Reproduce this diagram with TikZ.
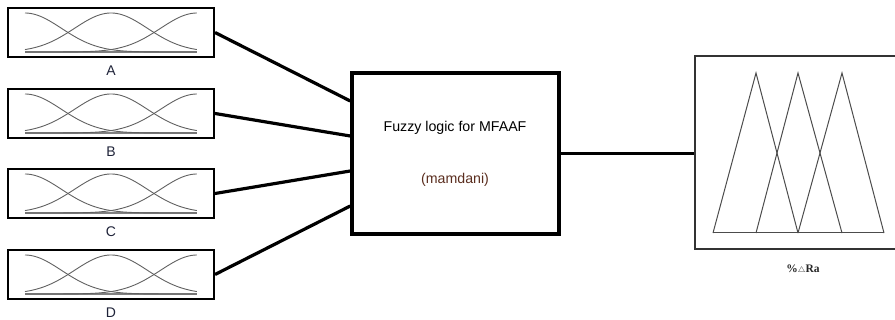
\documentclass[tikz,border=0pt]{standalone}
\usepackage{fontspec}
\setmainfont{Liberation Sans}
\newfontfamily\serifdelta{Liberation Serif}
\usetikzlibrary{calc}
\definecolor{lbl}{HTML}{1E2238}
\definecolor{mam}{HTML}{5A2D1E}
\tikzset{
  mfbox/.style={draw=black, line width=2pt, minimum width=206pt, minimum height=49pt, inner sep=0pt},
  fisbox/.style={draw=black, line width=3.5pt, minimum width=207pt, minimum height=161pt, inner sep=0pt},
  outbox/.style={draw=black!80, line width=1.5pt, minimum width=220pt, minimum height=193pt, inner sep=0pt},
  conn/.style={line width=3.2pt, black},
  mfcurve/.style={draw=black!62, line width=0.9pt},
  mfbase/.style={draw=black!50, line width=1.5pt},
  tri/.style={draw=black!70, line width=1pt, line join=miter},
  lblstyle/.style={text=lbl, font=\fontsize{14}{16}\selectfont, inner sep=0pt},
  fistext/.style={font=\fontsize{14.2}{17}\selectfont, inner sep=0pt},
}
\begin{document}
\begin{tikzpicture}[x=1pt,y=-1pt]
\begin{scope}
\clip (0,0) rectangle (895,320);
% input membership-function boxes
\foreach \n/\t in {A/8, B/89, C/169, D/250}{
  \node[mfbox] (\n) at (111,{\t+24.5}) {};
  \node[lblstyle] (\n lab) at (111,{\t+63}) {\n};
  \begin{scope}[shift={(8,\t)}]
    \draw[mfbase] (17,44) -- (189,44);
    \draw[mfcurve] plot[domain=0:1,samples=70] ({17+172*\x},{5+39*(1-exp(-11.1*\x*\x))});
    \draw[mfcurve] plot[domain=0:1,samples=70] ({17+172*\x},{5+39*(1-exp(-11.1*(\x-0.5)*(\x-0.5)))});
    \draw[mfcurve] plot[domain=0:1,samples=70] ({17+172*\x},{5+39*(1-exp(-11.1*(\x-1)*(\x-1)))});
  \end{scope}
}
% fuzzy inference system
\node[fisbox] (F) at (455.5,153.5) {};
\node[fistext] (F1) at (455,128) {Fuzzy logic for MFAAF};
\node[fistext, text=mam] (F2) at (455,180) {(mamdani)};
% output box
\node[outbox] (R) at (805,152.5) {};
\draw[tri] (713,233) -- (756,73) -- (798,233);
\draw[tri] (756,233) -- (798,73) -- (842,233);
\draw[tri] (798,233) -- (842,73) -- (884,233);
\draw[tri] (713,233) -- (884,233);
\node[inner sep=0pt, font=\serifdelta\bfseries\fontsize{11.5}{13}\selectfont, text=black!85] (Rlab) at (803,269) {\%$\scriptstyle\triangle$Ra};
% connectors
\draw[conn] (A.east) -- ([yshift=52.5pt]F.west);
\draw[conn] (B.east) -- ([yshift=17.5pt]F.west);
\draw[conn] (C.east) -- ([yshift=-17.5pt]F.west);
\draw[conn] (D.east) -- ([yshift=-52.5pt]F.west);
\draw[conn] (F.east) -- (F.east -| R.west);
\end{scope}
\pgfresetboundingbox
\useasboundingbox (0,0) rectangle (895,320);
\end{tikzpicture}
\end{document}
